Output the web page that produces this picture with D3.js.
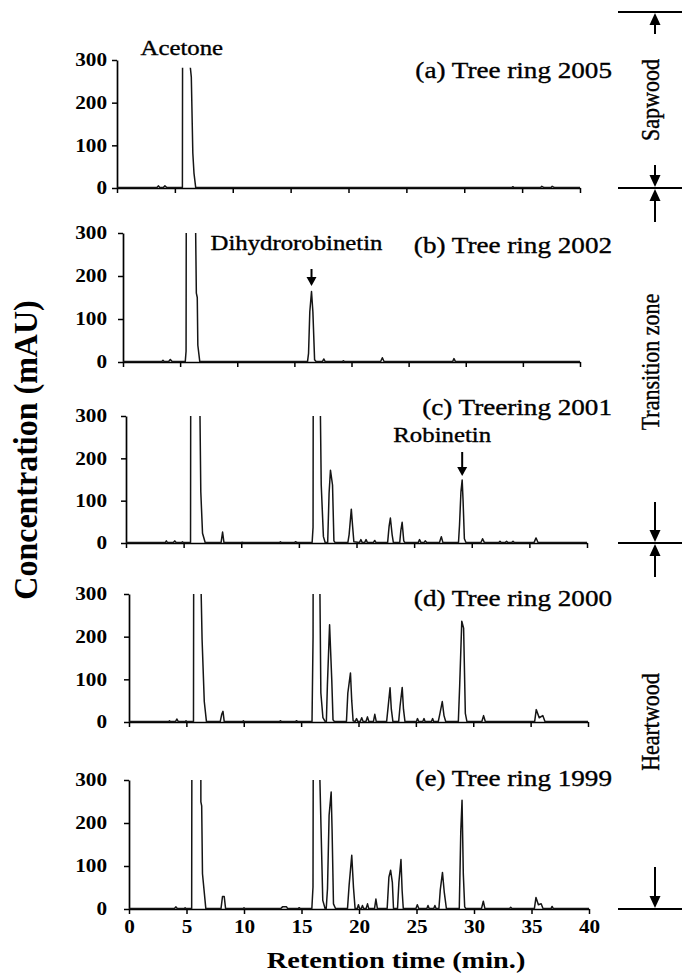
<!DOCTYPE html>
<html>
<head>
<meta charset="utf-8">
<script src="https://cdn.jsdelivr.net/npm/d3@7"></script>
<style>
body{margin:0;background:#fff}
svg text{font-family:"Liberation Serif","Times New Roman",serif;fill:#000}
.soft{stroke:#000;stroke-width:0.35px}
</style>
</head>
<body>
<svg id="chart" width="682" height="975"></svg>
<script>
// ticks
let timeTicks=[0,5,10,15,20,25,30,35,40];
let concTicks=[0,100,200,300];

let panelTitles=["(a) Tree ring 2005","(b) Tree ring 2002","(c) Treering 2001","(d) Tree ring 2000","(e) Tree ring 1999"];
let zoneNames=["Sapwood","Transition zone","Heartwood"];
let compoundNames=["Acetone","Dihydrorobinetin","Robinetin"];
let compoundPanel=[0,1,2];
let compoundTime=[5.6,16.5,29.17];

// chromatograms: [retention time (min), absorbance (mAU)]; off-scale peaks estimated
let ring2005=[[0,1],[3.45,1],[3.57,5],[3.7,1],[4.0,1],[4.14,5],[4.3,1],[5.65,1],[5.72,1500],[6.22,1500],[6.27,300],[6.42,260],[6.55,82],[6.65,35],[6.8,1],[34.1,1],[34.2,3],[34.3,1],[36.6,1],[36.7,4],[36.9,1],[37.5,1],[37.6,4],[37.8,1],[40,1]];
let ring2002=[[0,1],[3.4,1],[3.5,4],[3.6,1],[4.0,1],[4.14,6],[4.3,1],[5.45,1],[5.52,25],[5.6,1500],[6.3,1500],[6.36,300],[6.42,160],[6.5,150],[6.55,39],[6.72,1],[16.15,1],[16.24,20],[16.35,117],[16.5,164],[16.62,117],[16.77,5],[16.9,1],[17.45,1],[17.57,7],[17.7,1],[19.2,1],[19.28,3],[19.4,1],[22.55,1],[22.7,10],[22.85,1],[28.85,1],[28.97,8],[29.1,1],[40,1]];
let ring2001=[[0,1],[3.4,1],[3.5,5],[3.6,1],[4.1,1],[4.23,5],[4.35,1],[4.8,1],[4.9,3],[5.0,1],[5.6,1],[5.66,1500],[6.38,1500],[6.42,300],[6.49,121],[6.64,23],[6.87,1],[8.25,1],[8.38,26],[8.5,1],[10.0,1],[10.08,2],[10.15,1],[13.3,1],[13.4,3],[13.5,1],[14.6,1],[14.72,3],[14.85,1],[16.15,1],[16.23,37],[16.3,1500],[16.82,1500],[16.87,300],[16.94,137],[17.13,15],[17.28,1],[17.5,1],[17.62,117],[17.74,172],[17.92,137],[18.04,5],[18.15,1],[19.25,1],[19.36,20],[19.55,80],[19.66,40],[19.77,3],[20.25,1],[20.38,8],[20.5,1],[20.7,1],[20.83,8],[20.95,1],[21.45,1],[21.58,6],[21.7,1],[22.7,1],[22.83,40],[22.94,59],[23.09,20],[23.2,1],[23.75,1],[23.85,30],[23.96,49],[24.1,5],[24.2,1],[25.35,1],[25.47,8],[25.6,1],[25.85,1],[25.96,5],[26.1,1],[27.2,1],[27.36,15],[27.5,1],[28.85,1],[28.94,43],[29.06,120],[29.17,149],[29.25,98],[29.36,10],[29.5,1],[30.8,1],[30.94,10],[31.1,1],[32.35,1],[32.45,4],[32.55,1],[32.9,1],[33.02,4],[33.15,1],[33.45,1],[33.58,4],[33.7,1],[35.4,1],[35.58,12],[35.75,1],[40,1]];
let ring2000=[[0,1],[3.45,1],[3.53,3],[3.6,1],[4.05,1],[4.17,7],[4.3,1],[4.9,1],[4.97,3],[5.05,1],[5.62,1],[5.69,1500],[6.25,1500],[6.29,300],[6.37,193],[6.56,48],[6.75,1],[7.95,1],[8.08,18],[8.19,25],[8.3,1],[9.9,1],[9.97,3],[10.05,1],[13.1,1],[13.19,3],[13.3,1],[14.5,1],[14.6,3],[14.7,1],[15.95,1],[16.04,200],[16.11,1500],[16.6,1500],[16.64,300],[16.72,68],[16.9,10],[17.1,1],[17.2,1],[17.29,87],[17.48,228],[17.67,99],[17.78,5],[17.9,1],[18.95,1],[19.07,68],[19.3,115],[19.41,50],[19.53,3],[19.7,1],[19.83,8],[19.95,1],[20.15,1],[20.28,10],[20.4,1],[20.65,1],[20.78,12],[20.9,1],[21.3,1],[21.42,18],[21.55,1],[22.45,1],[22.6,40],[22.75,80],[22.86,30],[23.0,1],[23.5,1],[23.62,37],[23.81,81],[23.92,30],[24.05,1],[25.05,1],[25.14,8],[25.25,1],[25.6,1],[25.71,8],[25.8,1],[26.35,1],[26.46,8],[26.55,1],[26.95,1],[27.1,20],[27.3,48],[27.45,15],[27.6,1],[28.7,1],[28.82,87],[29.0,236],[29.16,220],[29.31,20],[29.45,1],[30.75,1],[30.9,15],[31.05,1],[35.35,1],[35.49,29],[35.75,10],[36.06,15],[36.25,1],[40,1]];
let ring1999=[[0,1],[3.95,1],[4.07,5],[4.2,1],[4.8,1],[4.88,3],[4.95,1],[5.45,1],[5.52,1500],[6.2,1500],[6.25,249],[6.32,240],[6.39,82],[6.68,1],[8.0,1],[8.13,29],[8.28,29],[8.4,1],[9.92,1],[10.0,3],[10.08,1],[13.2,1],[13.35,5],[13.7,5],[13.8,1],[14.7,1],[14.8,3],[14.9,1],[15.9,1],[16.0,51],[16.1,1500],[16.55,1500],[16.6,300],[16.7,187],[16.85,20],[17.05,1],[17.15,1],[17.26,47],[17.4,218],[17.58,272],[17.66,183],[17.78,12],[17.96,1],[19.0,1],[19.14,55],[19.37,125],[19.52,50],[19.66,1],[19.85,1],[19.95,10],[20.05,1],[20.2,1],[20.3,8],[20.4,1],[20.62,1],[20.74,12],[20.85,1],[21.35,1],[21.47,23],[21.6,1],[22.45,1],[22.6,74],[22.75,90],[22.9,62],[23.0,1],[23.35,1],[23.47,62],[23.65,115],[23.75,43],[23.85,1],[24.95,1],[25.07,10],[25.2,1],[25.9,1],[26.0,8],[26.1,1],[26.5,1],[26.6,8],[26.7,1],[26.95,1],[27.07,45],[27.26,85],[27.41,40],[27.6,1],[28.72,1],[28.85,180],[28.96,253],[29.07,82],[29.19,5],[29.3,1],[30.65,1],[30.81,18],[30.95,1],[33.1,1],[33.19,4],[33.3,1],[35.25,1],[35.39,27],[35.6,10],[35.84,12],[36.0,1],[36.7,1],[36.79,6],[36.9,1],[40,1]];
let series=[ring2005,ring2002,ring2001,ring2000,ring1999];

// layout of the five stacked panels
let layout=[
  {x0:117,x1:580,top:60,base:188,clipMax:282,titleDy:10},
  {x0:123,x1:580,top:233,base:362,clipMax:300,titleDy:12},
  {x0:126,x1:587,top:416,base:543,clipMax:300,titleDy:-9},
  {x0:129,x1:588,top:594,base:722,clipMax:300,titleDy:4},
  {x0:129,x1:589,top:780,base:909,clipMax:300,titleDy:-2}
];
let SX=1.18; // the figure is a little wider than tall
let labelRight=107;

let svg=d3.select("#chart");
let defs=svg.append("defs");

let stretch=(sel)=>{
  sel.each(function(){
    let t=d3.select(this);
    let x=+t.attr("x")||0, y=+t.attr("y")||0;
    t.attr("x",0).attr("y",0).attr("transform","translate("+x+","+y+") scale("+SX+",1)");
  });
};

let arrow=(g,x,yFrom,yTo,hw,hl)=>{
  let dir=yTo>yFrom?1:-1;
  g.append("line").attr("x1",x).attr("x2",x).attr("y1",yFrom).attr("y2",yTo-dir*hl)
    .attr("stroke","#000").attr("stroke-width",2);
  g.append("path").attr("d","M"+(x-hw)+","+(yTo-dir*hl)+"L"+(x+hw)+","+(yTo-dir*hl)+"L"+x+","+yTo+"Z")
    .attr("fill","#000");
};

let xScales=[];

layout.forEach((p,i)=>{
  let x=d3.scaleLinear().domain([0,40]).range([p.x0,p.x1]);
  let y=d3.scaleLinear().domain([0,300]).range([p.base,p.top]);
  xScales.push(x);
  let g=svg.append("g");

  defs.append("clipPath").attr("id","clip"+i).append("rect")
    .attr("x",p.x0).attr("y",y(p.clipMax)).attr("width",p.x1-p.x0).attr("height",p.base-y(p.clipMax)+4);

  let xAxis=d3.axisBottom(x).tickValues(timeTicks).tickSize(5).tickSizeOuter(0).tickPadding(6);
  if(i<4) xAxis.tickFormat("");
  let gx=g.append("g").attr("transform","translate(0,"+p.base+")").call(xAxis);

  let gy=g.append("g").attr("transform","translate("+p.x0+",0)")
    .call(d3.axisLeft(y).tickValues(concTicks).tickSize(5).tickSizeOuter(0).tickPadding(p.x0-labelRight-5));

  [gx,gy].forEach(a=>{
    a.attr("font-family",null).attr("font-size",null);
    a.select(".domain").attr("stroke-width",1.7);
    a.selectAll(".tick line").attr("stroke-width",1.5);
    a.selectAll("text").style("font-size","18px").style("font-weight","bold");
    stretch(a.selectAll("text"));
  });

  g.append("path").datum(series[i])
    .attr("clip-path","url(#clip"+i+")")
    .attr("fill","none").attr("stroke","#151515").attr("stroke-width",1.5).attr("stroke-linejoin","round")
    .attr("d",d3.line().x(d=>x(d[0])).y(d=>y(d[1])));

  g.append("text").attr("class","soft").attr("x",612).attr("y",p.top+p.titleDy+8)
    .attr("text-anchor","end").style("font-size","23px")
    .text(panelTitles[i]).call(stretch);
});

// compound labels, placed relative to the peak they name
let compDx=[0,-15,-20];
let compDy=[-5,17,26];
compoundNames.forEach((name,k)=>{
  let p=layout[compoundPanel[k]];
  let cx=xScales[compoundPanel[k]](compoundTime[k]);
  svg.append("text").attr("class","soft").attr("x",cx+compDx[k]).attr("y",p.top+compDy[k])
    .attr("text-anchor","middle").style("font-size","21px").text(name).call(stretch);
});
arrow(svg,xScales[1](compoundTime[1]),269,286,5,9);
arrow(svg,xScales[2](compoundTime[2]),452,476,5,9);

// sapwood / heartwood brackets on the right
let bracketY=[12,layout[0].base,layout[2].base,layout[4].base];
let bx=655;
bracketY.forEach(by=>{
  svg.append("line").attr("x1",618).attr("x2",682).attr("y1",by).attr("y2",by)
    .attr("stroke","#000").attr("stroke-width",2);
});
arrow(svg,bx,34,13,5.5,12);
arrow(svg,bx,165,bracketY[1]-1,5.5,12);
arrow(svg,bx,222,bracketY[1]+1,5.5,12);
arrow(svg,bx,502,bracketY[2]-1,5.5,12);
arrow(svg,bx,577,bracketY[2]+1,5.5,12);
arrow(svg,bx,867,bracketY[3]-1,5.5,12);

let zoneY=[100,362,722];
zoneNames.forEach((z,k)=>{
  svg.append("text").attr("class","soft").attr("transform","translate(659,"+zoneY[k]+") rotate(-90) scale(1,"+SX+")")
    .attr("text-anchor","middle").style("font-size","22px").text(z);
});

// axis titles
svg.append("text").attr("x",396).attr("y",968).attr("text-anchor","middle")
  .style("font-size","24px").style("font-weight","bold").text("Retention time (min.)").call(stretch);
svg.append("text").attr("transform","translate(37,450) rotate(-90) scale(1,1.05)")
  .attr("text-anchor","middle").style("font-size","32px").style("font-weight","bold").text("Concentration (mAU)");
</script>
</body>
</html>
